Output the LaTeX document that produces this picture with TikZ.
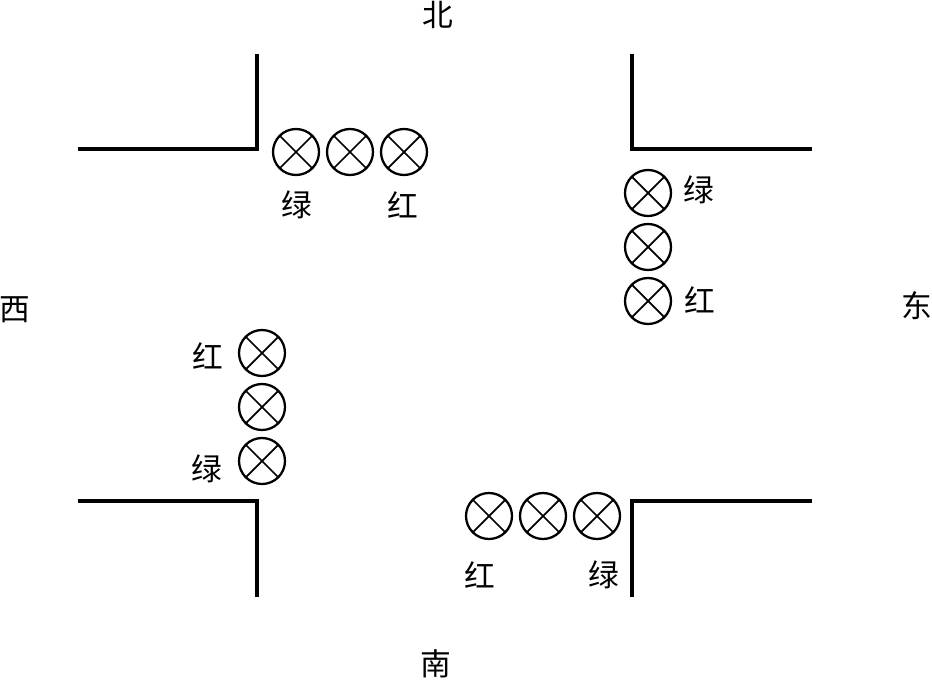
\documentclass[tikz,border=0pt]{standalone}
\usepackage{fontspec}
\setmainfont{Noto Sans CJK SC}
\tikzset{
  lamp/.style={circle,draw,line width=1.3pt,minimum size=.92cm,inner sep=0pt,
    path picture={
      \draw[line width=1pt] (path picture bounding box.south west)--(path picture bounding box.north east);
      \draw[line width=1pt] (path picture bounding box.north west)--(path picture bounding box.south east);
    }},
  wall/.style={line width=1.9pt},
  lbl/.style={font=\fontsize{17.5}{17.5}\selectfont,inner sep=0pt}
}
\begin{document}
\begin{tikzpicture}[x=.02cm,y=-.02cm]
  \useasboundingbox (0,0) rectangle (932,679);

  % walls at the four corners
  \coordinate (nwa) at (78,149);
  \coordinate (nwb) at (257,149);
  \coordinate (nwc) at (257,54);
  \draw[wall] (nwa)--(nwb)--(nwc);
  \coordinate (nea) at (812,149);
  \coordinate (neb) at (632,149);
  \coordinate (nec) at (632,54);
  \draw[wall] (nea)--(neb)--(nec);
  \coordinate (swa) at (78,501);
  \coordinate (swb) at (257,501);
  \coordinate (swc) at (257,597);
  \draw[wall] (swa)--(swb)--(swc);
  \coordinate (sea) at (812,501);
  \coordinate (seb) at (632,501);
  \coordinate (sec) at (632,597);
  \draw[wall] (sea)--(seb)--(sec);

  % lamps
  \foreach \n/\xx/\yy in {n1/296/152,n2/350/152,n3/404/152,
      e1/648/193,e2/648/247,e3/648/301,
      w1/262/353,w2/262/407,w3/262/461,
      s1/489/516,s2/543/516,s3/597/516}{
    \node[lamp] (\n) at (\xx,\yy) {};
  }

  % lamp labels
  \node[lbl] (n1t) at (297,205) {绿};
  \node[lbl] (n3t) at (403,205) {红};
  \node[lbl] (e1t) at (699,190) {绿};
  \node[lbl] (e3t) at (700,300) {红};
  \node[lbl] (w1t) at (208,356) {红};
  \node[lbl] (w3t) at (207,469) {绿};
  \node[lbl] (s1t) at (480,575) {红};
  \node[lbl] (s3t) at (604,575) {绿};

  % directions
  \node[lbl] (north) at (438,15) {北};
  \node[lbl] (south) at (436,664) {南};
  \node[lbl] (west) at (15,310) {西};
  \node[lbl] (east) at (917,306) {东};
\end{tikzpicture}
\end{document}
